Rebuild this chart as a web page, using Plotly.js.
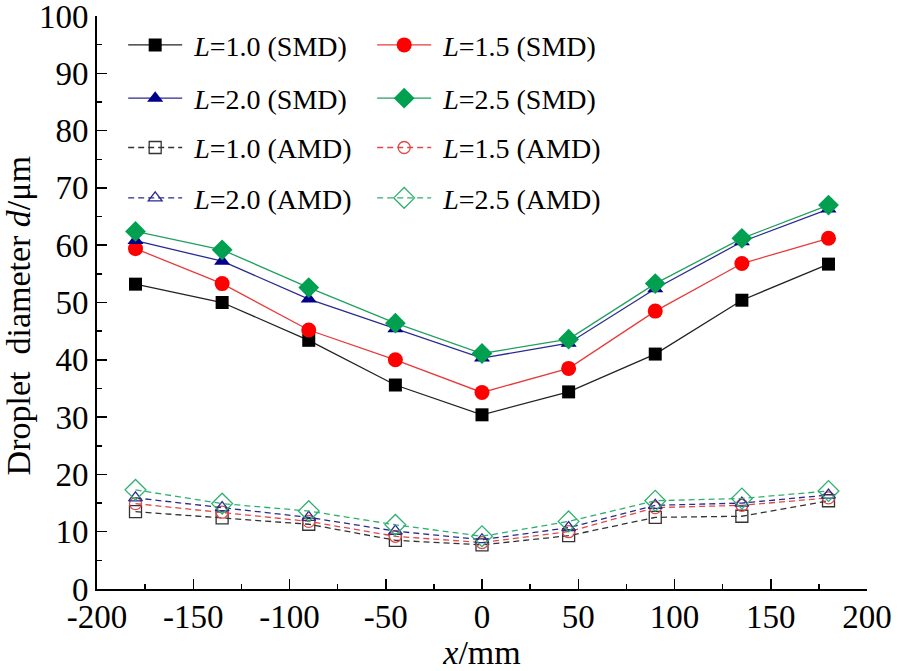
<!DOCTYPE html>
<html>
<head>
<meta charset="utf-8">
<script src="https://cdn.plot.ly/plotly-3.0.1.min.js"></script>
<style>html,body{margin:0;padding:0;background:#fff;}#chart{width:898px;height:671px;}</style>
</head>
<body>
<div id="chart"></div>
<script>
const xPos = [-180, -135, -90, -45, 0, 45, 90, 135, 180];
const smdL10 = [53.2, 50.0, 43.4, 35.6, 30.4, 34.4, 41.0, 50.4, 56.7];
const smdL15 = [59.4, 53.3, 45.2, 40.0, 34.3, 38.5, 48.5, 56.8, 61.2];
const smdL20 = [60.8, 57.2, 50.6, 45.4, 40.3, 42.9, 52.4, 60.6, 66.3];
const smdL25 = [62.4, 59.2, 52.6, 46.4, 41.1, 43.6, 53.3, 61.2, 67.0];
const amdL10 = [13.5, 12.4, 11.3, 8.5, 7.7, 9.3, 12.5, 12.7, 15.4];
const amdL15 = [14.9, 13.4, 11.8, 9.2, 8.1, 10.0, 14.2, 14.6, 15.9];
const amdL20 = [15.9, 14.2, 12.5, 10.1, 8.6, 10.7, 14.6, 15.0, 16.4];
const amdL25 = [17.3, 14.9, 13.6, 11.2, 9.2, 11.8, 15.4, 15.8, 17.1];
const seriesNames = [
  '<i>L</i>=1.0 (SMD)', '<i>L</i>=1.5 (SMD)', '<i>L</i>=2.0 (SMD)', '<i>L</i>=2.5 (SMD)',
  '<i>L</i>=1.0 (AMD)', '<i>L</i>=1.5 (AMD)', '<i>L</i>=2.0 (AMD)', '<i>L</i>=2.5 (AMD)'
];
const xTickVals = [-200, -150, -100, -50, 0, 50, 100, 150, 200];
const xTickText = ['-200', '-150', '-100', '-50', '0', '50', '100', '150', '200'];
const xMinorVals = [-175, -125, -75, -25, 25, 75, 125, 175];
const yTickVals = [0, 10, 20, 30, 40, 50, 60, 70, 80, 90, 100];
const yTickText = ['0', '10', '20', '30', '40', '50', '60', '70', '80', '90', '100'];
const yMinorVals = [5, 15, 25, 35, 45, 55, 65, 75, 85, 95];

const serif = 'Liberation Serif, Times New Roman, serif';
const pad = '\u00a0';

function smd(y, name, lineColor, markerColor, symbol, size, legend) {
  return {x: xPos, y: y, name: pad + name, type: 'scatter', mode: 'lines+markers', legend: legend,
    line: {color: lineColor, width: 1.3},
    marker: {symbol: symbol, size: size, color: markerColor, line: {width: 0}}};
}
function amd(y, name, color, symbol, size, legend) {
  return {x: xPos, y: y, name: pad + name, type: 'scatter', mode: 'lines+markers', legend: legend,
    line: {color: color, width: 1.3, dash: '6px,4px'},
    marker: {symbol: symbol, size: size, color: color, line: {color: color, width: 1.3}}};
}

const data = [
  smd(smdL10, seriesNames[0], '#222222', '#000000', 'square', 13, 'legend'),
  smd(smdL15, seriesNames[1], '#e83a3a', '#ff0000', 'circle', 15, 'legend'),
  smd(smdL20, seriesNames[2], '#2a2a90', '#00008b', 'triangle-up', 14, 'legend2'),
  smd(smdL25, seriesNames[3], '#20a060', '#00a050', 'diamond', 16, 'legend2'),
  amd(amdL10, seriesNames[4], '#333333', 'square-open', 12, 'legend3'),
  amd(amdL15, seriesNames[5], '#e04848', 'circle-open', 12, 'legend3'),
  amd(amdL20, seriesNames[6], '#2a2a90', 'triangle-up-open', 12, 'legend4'),
  amd(amdL25, seriesNames[7], '#30b070', 'diamond-open', 16, 'legend4')
];

function leg(yv) {
  return {orientation: 'h', x: 0.034, xanchor: 'left', y: yv, yanchor: 'middle',
    entrywidth: 180, entrywidthmode: 'pixels', itemwidth: 54,
    font: {family: serif, size: 28, color: '#000'}, bgcolor: 'rgba(0,0,0,0)', borderwidth: 0,
    traceorder: 'normal', itemclick: false};
}

const layout = {
  width: 898, height: 671,
  margin: {l: 97, r: 31, t: 16, b: 82},
  paper_bgcolor: '#fff', plot_bgcolor: '#fff',
  font: {family: serif, size: 30, color: '#000'},
  showlegend: true,
  legend: leg(0.949),
  legend2: leg(0.856),
  legend3: leg(0.77),
  legend4: leg(0.682),
  xaxis: {
    range: [-200, 200], tickmode: 'array', tickvals: xTickVals, ticktext: xTickText,
    showgrid: false, zeroline: false, showline: true, linecolor: '#000', linewidth: 2,
    ticks: 'inside', ticklen: 10, tickwidth: 1.5, tickcolor: '#000',
    minor: {tickmode: 'array', tickvals: xMinorVals, ticks: 'inside', ticklen: 5, tickwidth: 1.5, tickcolor: '#000', showgrid: false},
    tickfont: {family: serif, size: 33, color: '#000'}, ticklabelstandoff: -3, ticklabeloverflow: 'allow',
    title: {text: '<i>x</i>/mm', font: {family: serif, size: 34, color: '#000'}, standoff: 1}
  },
  yaxis: {
    range: [0, 100], tickmode: 'array', tickvals: yTickVals, ticktext: yTickText,
    showgrid: false, zeroline: false, showline: true, linecolor: '#000', linewidth: 2,
    ticks: 'inside', ticklen: 10, tickwidth: 1.5, tickcolor: '#000',
    minor: {tickmode: 'array', tickvals: yMinorVals, ticks: 'inside', ticklen: 5, tickwidth: 1.5, tickcolor: '#000', showgrid: false},
    tickfont: {family: serif, size: 33, color: '#000'}, ticklabelstandoff: 0, ticklabeloverflow: 'allow',
    title: {text: 'Droplet  diameter <i>d</i>/μm<span style="color:rgba(0,0,0,0)">m</span>', font: {family: serif, size: 34, color: '#000'}, standoff: 4}
  }
};

Plotly.newPlot('chart', data, layout, {staticPlot: true});
</script>
</body>
</html>
